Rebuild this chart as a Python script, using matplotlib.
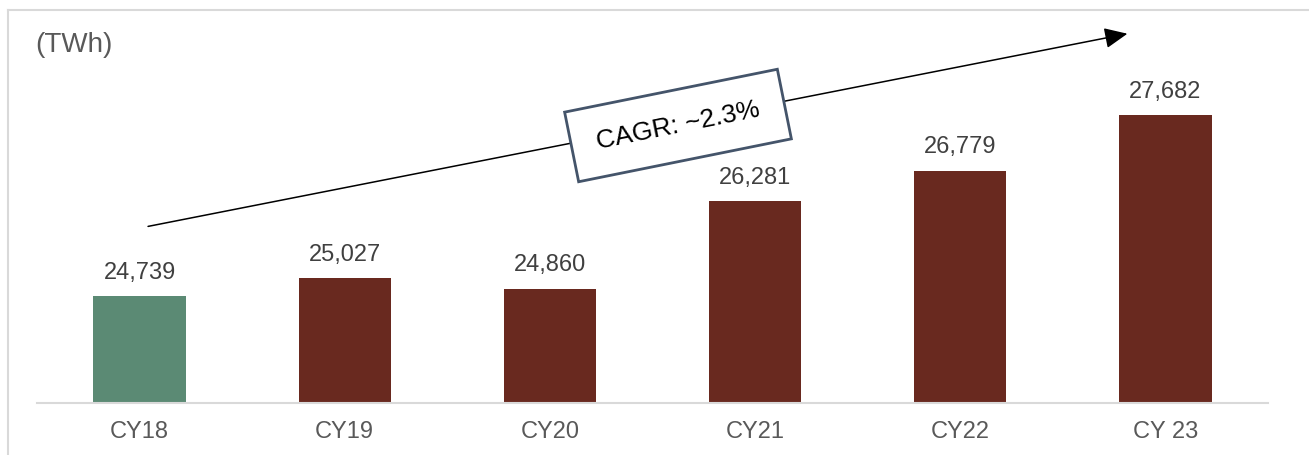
import numpy as np
import matplotlib.pyplot as plt
from matplotlib.lines import Line2D
from matplotlib.patches import Rectangle

plt.rcParams['font.family'] = ['Liberation Sans', 'DejaVu Sans']

# Data
years = ['CY18', 'CY19', 'CY20', 'CY21', 'CY22', 'CY 23']
demand = [24739, 25027, 24860, 26281, 26779, 27682]
bar_colors = ['#5B8A74', '#69291F', '#69291F', '#69291F', '#69291F', '#69291F']
cagr_label = 'CAGR: ~2.3%'

fig = plt.figure(figsize=(13.09, 4.55), dpi=100)
ax = fig.add_axes([37 / 1309, 1 - 403 / 455, 1231 / 1309, 393 / 455])

x = np.arange(len(years))
ax.bar(x, demand, width=0.45, color=bar_colors, zorder=2)

for xi, v in zip(x, demand):
    ax.annotate(f'{v:,}', (xi, v), xytext=(0, 12.5), textcoords='offset points',
                ha='center', va='baseline', fontsize=17, color='#404040')

ax.set_xlim(-0.5, 5.5)
ax.set_ylim(23000, 29390)
ax.set_xticks(x)
ax.set_xticklabels(years, fontsize=17, color='#595959')
ax.tick_params(axis='x', length=0, pad=13)
ax.set_yticks([])
for side in ['left', 'right', 'top']:
    ax.spines[side].set_visible(False)
ax.spines['bottom'].set_color('#D9D9D9')
ax.spines['bottom'].set_linewidth(1.5)

# trend arrow
ax.annotate('', xy=(0.888, 0.941), xytext=(0.088, 0.448), xycoords='axes fraction',
            arrowprops=dict(arrowstyle='-|>,head_length=1.0,head_width=0.45',
                            color='black', lw=1.1, mutation_scale=14))

# CAGR box (drawn in inches so it stays a true rectangle)
cx, cy, bw, bh = 6.78, 3.295, 2.17, 0.71
fig.add_artist(Rectangle((cx - bw / 2, cy - bh / 2), bw, bh, angle=11.4,
                         rotation_point='center', transform=fig.dpi_scale_trans,
                         facecolor='white', edgecolor='#44546A', lw=2, zorder=4))
fig.text(cx / 13.09, cy / 4.55, cagr_label, rotation=11.4, rotation_mode='anchor',
         ha='center', va='center', fontsize=19, color='black', zorder=5)

fig.text(35 / 1309, 1 - 32 / 455, '(TWh)', fontsize=20, color='#595959', ha='left', va='top')

# outer frame lines
fig.add_artist(Line2D([8 / 1309, 1], [1 - 10 / 455, 1 - 10 / 455], color='#D9D9D9', lw=1.5))
fig.add_artist(Line2D([8 / 1309, 8 / 1309], [0, 1 - 10 / 455], color='#D9D9D9', lw=1.5))

fig.savefig('out.png', dpi=100)
